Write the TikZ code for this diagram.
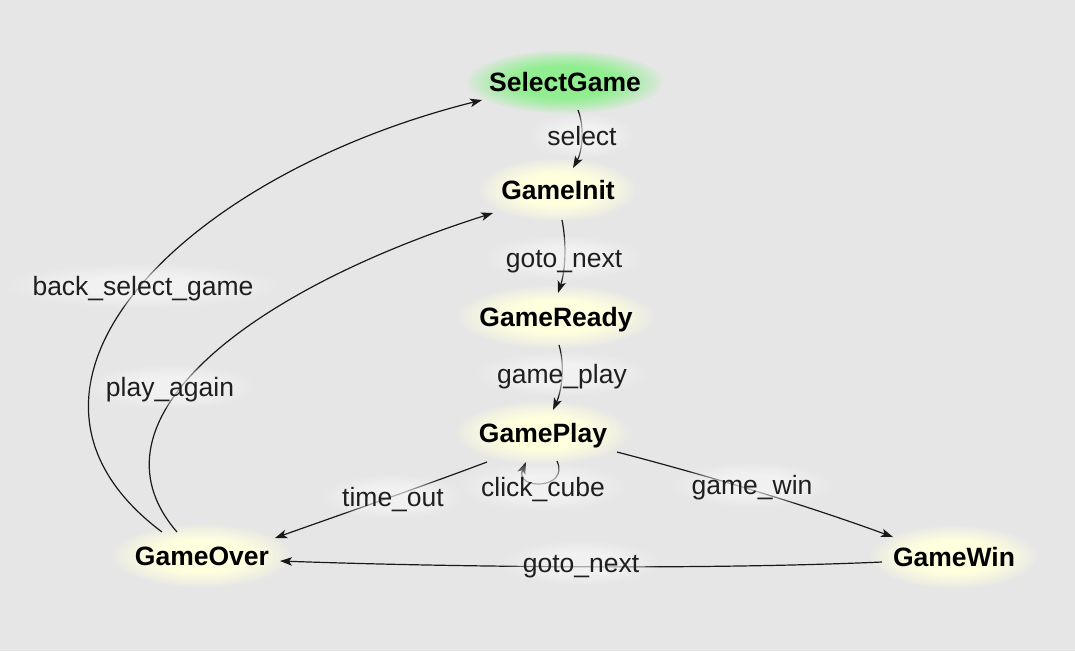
\documentclass[tikz,border=0pt]{standalone}
\usepackage{fontspec}
\setmainfont{Liberation Sans}
\usetikzlibrary{arrows.meta}
\definecolor{bgc}{RGB}{230,230,230}
\definecolor{ny}{RGB}{255,255,222}
\definecolor{ng}{RGB}{144,238,144}
\pgfdeclarelayer{backlayer}
\pgfdeclarelayer{glowlayer}
\pgfdeclarelayer{txtlayer}
\pgfsetlayers{backlayer,glowlayer,main,txtlayer}
% soft glow made of concentric solid ellipses
\newcommand{\stateglow}[4]{%
  \foreach \k in {0,...,24}{%
    \pgfmathsetmacro\gs{1-0.5*\k/24}%
    \pgfmathsetmacro\gp{100*(\k/24)^0.8}%
    \fill[#4!\gp!bgc] #1 ellipse [x radius=#2*\gs, y radius=#3*\gs];
  }}
% translucent halo behind labels
\newcommand{\labelhalo}[3]{%
  \foreach \k in {0,...,13}{%
    \pgfmathsetmacro\gs{1-0.65*\k/13}%
    \fill[white, fill opacity=0.07] #1 ellipse [x radius=#2*\gs, y radius=#3*\gs];
  }}
\tikzset{
  state/.style={font=\fontsize{26.5}{30}\selectfont\bfseries, text=black, inner sep=0pt, anchor=base},
  lbl/.style={font=\fontsize{26.5}{30}\selectfont, text=black!88, inner sep=0pt, anchor=base},
  edge/.style={line width=1.2pt, draw=black!90, -{Stealth[length=12pt,width=8.5pt,inset=3pt]}}
}
\begin{document}
\begin{tikzpicture}[x=1pt,y=-1pt]
\begin{pgfonlayer}{backlayer}
\fill[bgc] (0,0) rectangle (1075,651);
\end{pgfonlayer}
\useasboundingbox (0,0) rectangle (1075,651);
% states
\begin{pgfonlayer}{txtlayer}
\node[state] (sg) at (565,91)  {SelectGame};
\node[state] (gi) at (558,199) {GameInit};
\node[state] (gr) at (556,326) {GameReady};
\node[state] (gp) at (543,442) {GamePlay};
\node[state] (go) at (202,565) {GameOver};
\node[state] (gw) at (954,566) {GameWin};
\end{pgfonlayer}
% glows
\begin{pgfonlayer}{glowlayer}
\stateglow{([yshift=9pt]sg.base)}{100}{32}{ng}
\stateglow{([yshift=9pt]gi.base)}{80}{32}{ny}
\stateglow{([yshift=9pt]gr.base)}{100}{32}{ny}
\stateglow{([yshift=9pt]gp.base)}{88}{32}{ny}
\stateglow{([yshift=9pt]go.base)}{91}{32}{ny}
\stateglow{([yshift=9pt]gw.base)}{85}{32}{ny}
\end{pgfonlayer}
% edges
\draw[edge] ([shift={(13,19)}]sg.base) .. controls (585,128) and (582,152) .. ([shift={(15,-31)}]gi.base);
\draw[edge] ([shift={(4,21)}]gi.base) .. controls (567,245) and (565,272) .. ([shift={(2,-33)}]gr.base);
\draw[edge] ([shift={(3,19)}]gr.base) .. controls (565,365) and (562,390) .. ([shift={(10,-32)}]gp.base);
\draw[edge] ([shift={(14,19)}]gp.base) .. controls (570,490) and (514,490) .. ([shift={(-17,20)}]gp.base);
\draw[edge] ([shift={(-56,20)}]gp.base) .. controls (418,488) and (345,513) .. ([shift={(73,-27)}]go.base);
\draw[edge] ([shift={(74,10)}]gp.base) .. controls (705,475) and (800,503) .. ([shift={(-61,-29)}]gw.base);
\draw[edge] ([shift={(-72,-4)}]gw.base) .. controls (700,570) and (450,567) .. ([shift={(78,-4)}]go.base);
\draw[edge] ([shift={(-40,-33)}]go.base) .. controls (-30,388) and (182,175) .. ([shift={(-83,9)}]sg.base);
\draw[edge] ([shift={(-25,-33)}]go.base) .. controls (80,420) and (250,290) .. ([shift={(-65,14)}]gi.base);
% labels
\begin{pgfonlayer}{txtlayer}
\node[lbl] (l1) at (582,145) {select};
\node[lbl] (l2) at (564,267) {goto\_next};
\node[lbl] (l3) at (562,383) {game\_play};
\node[lbl] (l4) at (543,496) {click\_cube};
\node[lbl] (l5) at (393,506) {time\_out};
\node[lbl] (l6) at (752,494) {game\_win};
\node[lbl] (l7) at (581,572) {goto\_next};
\node[lbl] (l8) at (143,295) {back\_select\_game};
\node[lbl] (l9) at (170,396) {play\_again};
\end{pgfonlayer}
% label halos (above edges, below text)
\labelhalo{([yshift=9pt]l1.base)}{52}{22}
\labelhalo{([yshift=9pt]l2.base)}{78}{22}
\labelhalo{([yshift=9pt]l3.base)}{85}{22}
\labelhalo{([yshift=9pt]l4.base)}{82}{24}
\labelhalo{([yshift=9pt]l5.base)}{70}{22}
\labelhalo{([yshift=9pt]l6.base)}{80}{22}
\labelhalo{([yshift=9pt]l7.base)}{78}{22}
\labelhalo{([yshift=9pt]l8.base)}{135}{22}
\labelhalo{([yshift=9pt]l9.base)}{84}{22}
\end{tikzpicture}
\end{document}
